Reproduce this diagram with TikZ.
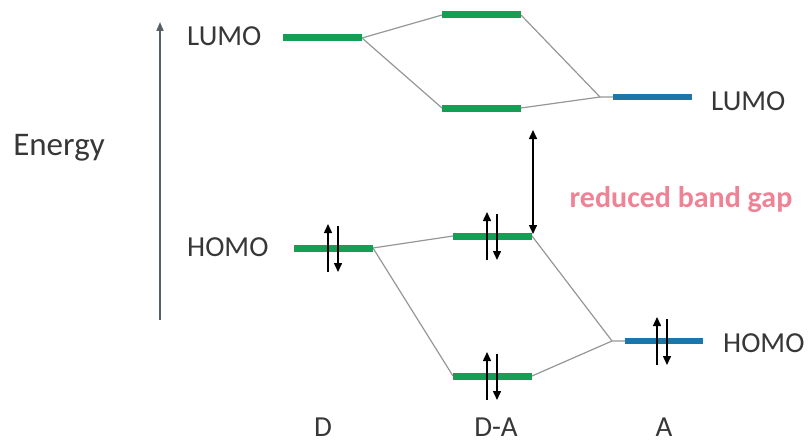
\documentclass[tikz,border=0pt]{standalone}
\usepackage{fontspec}
\setmainfont{Carlito}
\usetikzlibrary{arrows.meta}
\definecolor{lvlgreen}{RGB}{22,158,84}
\definecolor{lvlblue}{RGB}{28,118,168}
\definecolor{linkgray}{RGB}{150,150,150}
\definecolor{gappink}{RGB}{240,130,150}
\definecolor{txtgray}{RGB}{55,55,55}
\definecolor{axisgray}{RGB}{85,95,105}
\begin{document}
\begin{tikzpicture}[x=1pt,y=-1pt,
  greenbar/.style={draw=lvlgreen,line width=7pt},
  bluebar/.style={draw=lvlblue,line width=6pt},
  link/.style={draw=linkgray,line width=1.2pt},
  spin/.style={draw=black,line width=1.5pt,-{Triangle[length=9pt,width=8pt]}},
  lbl/.style={text=txtgray,font=\fontsize{29}{32}\selectfont,inner sep=0pt},
]
\useasboundingbox (0,0) rectangle (810,444);

% energy axis
\coordinate (axlo) at (160,320);
\coordinate (axhi) at (160,22);
\draw[axisgray,line width=1.6pt,-{Triangle[length=9pt,width=7pt]}] (axlo) -- (axhi);
\node[lbl,font=\fontsize{33}{36}\selectfont] (energy) at (59,148) {Energy};
\node[lbl,anchor=west] (lumoD) at (187,36) {LUMO};
\node[lbl,anchor=west] (homoD) at (187,247) {HOMO};
\node[lbl,anchor=west] (lumoA) at (711,101) {LUMO};
\node[lbl,anchor=west] (homoA) at (723,343) {HOMO};
\node[lbl,anchor=base] (labD) at (323,436) {D};
\node[lbl,anchor=base] (labDA) at (496,436) {D-A};
\node[lbl,anchor=base] (labA) at (664,436) {A};
\node[text=gappink,font=\fontsize{30}{32}\selectfont\bfseries,inner sep=0pt] (gap) at (681,200) {reduced band gap};

% level end points
\coordinate (dLa) at (283,38);  \coordinate (dLb) at (362,38);
\coordinate (dHa) at (294,248); \coordinate (dHb) at (373,248);
\coordinate (uLa) at (442,15);  \coordinate (uLb) at (521,15);
\coordinate (lLa) at (442,108); \coordinate (lLb) at (521,108);
\coordinate (uHa) at (453,236); \coordinate (uHb) at (532,236);
\coordinate (lHa) at (453,376); \coordinate (lHb) at (532,376);
\coordinate (aLa) at (613,97);  \coordinate (aLb) at (692,97);
\coordinate (aHa) at (625,341); \coordinate (aHb) at (703,341);
\coordinate (aLj) at (600,97);
\coordinate (aHj) at (612,341);

% correlation lines
\draw[link] (dLb) -- (uLa);
\draw[link] (dLb) -- (lLa);
\draw[link] (uLb) -- (aLj) -- (aLa);
\draw[link] (lLb) -- (aLj);
\draw[link] (dHb) -- (uHa);
\draw[link] (dHb) -- (lHa);
\draw[link] (uHb) -- (aHj) -- (aHa);
\draw[link] (lHb) -- (aHj);

% energy levels
\draw[greenbar] (dLa) -- (dLb);
\draw[greenbar] (dHa) -- (dHb);
\draw[greenbar] (uLa) -- (uLb);
\draw[greenbar] (lLa) -- (lLb);
\draw[greenbar] (uHa) -- (uHb);
\draw[greenbar] (lHa) -- (lHb);
\draw[bluebar] (aLa) -- (aLb);
\draw[bluebar] (aHa) -- (aHb);

% gap arrow
\coordinate (gapTop) at (533,130);
\coordinate (gapBot) at (533,234);
\draw[black,line width=1.5pt,{Triangle[length=9pt,width=8pt]}-{Triangle[length=9pt,width=8pt]}] (gapTop) -- (gapBot);

% electron pairs
\foreach \x/\y in {333/248, 492/236, 492/376, 662/341}{
  \draw[spin] (\x-5,\y+24) -- (\x-5,\y-24);
  \draw[spin] (\x+5,\y-22) -- (\x+5,\y+24);
}
\end{tikzpicture}
\end{document}
